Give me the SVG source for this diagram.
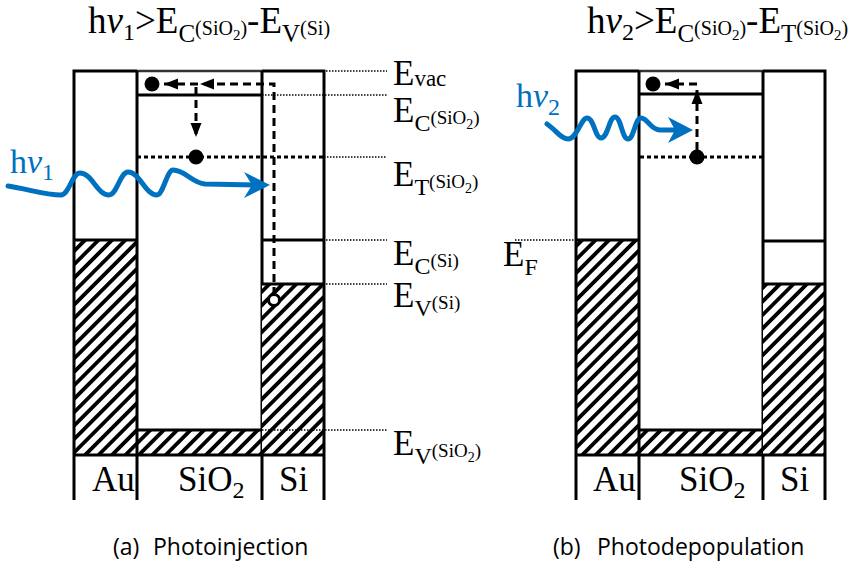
<svg xmlns="http://www.w3.org/2000/svg" width="853" height="563" viewBox="0 0 853 563">
<style>
.ln{stroke:#000;stroke-width:3;fill:none}
.top{stroke:#333;stroke-width:2.5;fill:none}
.dot{stroke:#000;stroke-width:1.5;stroke-dasharray:1.5 1.5;fill:none}
.dotk{stroke:#000;stroke-width:3;stroke-dasharray:4 3;fill:none}
.dash{stroke:#000;stroke-width:3;stroke-dasharray:8 5;fill:none}
.wave{stroke:#0070C0;stroke-width:5;fill:none;stroke-linecap:round;stroke-linejoin:round}
.head{fill:#0070C0}
.t{font-family:"Liberation Serif","Times New Roman",serif;fill:#000}
.b{fill:#0070C0}
.cap{font-family:"Open Sans","Liberation Sans",sans-serif;font-size:23px;fill:#000}
.el{fill:#000}
</style>
<defs>
<pattern id="hatch" patternUnits="userSpaceOnUse" width="9.5" height="9.5" patternTransform="rotate(45)">
<rect width="9.5" height="9.5" fill="#fff"/>
<rect width="3.8" height="9.5" fill="#000"/>
</pattern>
<marker id="arr" markerUnits="userSpaceOnUse" markerWidth="15" markerHeight="12" refX="14" refY="6" orient="auto">
<path d="M0,0.5 L14,6 L0,11.5 Z" fill="#000"/>
</marker>
</defs>
<rect width="853" height="563" fill="#fff"/>

<!-- Titles -->
<text id="title-a" class="t" x="88" y="33" font-size="37">h<tspan font-style="italic">ν</tspan><tspan font-size="24" dy="7">1</tspan><tspan dy="-7">&gt;E</tspan><tspan font-size="25" dy="9">C</tspan><tspan font-size="20" dy="-7">(SiO</tspan><tspan font-size="15" dy="5">2</tspan><tspan font-size="20" dy="-5">)</tspan><tspan dy="-2">-E</tspan><tspan font-size="25" dy="9">V</tspan><tspan font-size="20" dy="-7">(Si)</tspan></text>
<text id="title-b" class="t" x="587" y="33" font-size="37">h<tspan font-style="italic">ν</tspan><tspan font-size="24" dy="7">2</tspan><tspan dy="-7">&gt;E</tspan><tspan font-size="25" dy="9">C</tspan><tspan font-size="20" dy="-7">(SiO</tspan><tspan font-size="15" dy="5">2</tspan><tspan font-size="20" dy="-5">)</tspan><tspan dy="-2">-E</tspan><tspan font-size="25" dy="9">T</tspan><tspan font-size="20" dy="-7">(SiO</tspan><tspan font-size="15" dy="5">2</tspan><tspan font-size="20" dy="-5">)</tspan></text>

<!-- ===== Diagram (a) ===== -->
<g id="au-a">
<rect x="74" y="240" width="63" height="215" fill="url(#hatch)"/>
<path class="ln" d="M74,500 V71 H137 M74,240 H137"/>
<text class="t" x="92" y="491" font-size="35">Au</text>
</g>
<g id="sio2-a">
<rect x="137" y="430" width="125" height="25" fill="url(#hatch)"/>
<path class="top" d="M137,71 H262"/>
<path class="ln" d="M137,71 V500 M262,71 V500 M137,95 H262 M137,430 H262"/>
<text class="t" x="178" y="491" font-size="35">SiO<tspan font-size="24" dy="7">2</tspan></text>
</g>
<g id="si-a">
<rect x="262" y="284" width="62" height="171" fill="url(#hatch)"/>
<path class="ln" d="M262,71 H324 V500 M262,240 H324 M262,284 H324 M74,455 H324"/>
<text class="t" x="279" y="491" font-size="35">Si</text>
</g>
<g id="levels-a">
<path class="dot" d="M326,71 H387 M262,95 H387 M324,157 H387 M326,240 H387 M326,284 H387 M262,430 H387"/>
<path class="dotk" d="M137,157 H324"/>
<text class="t" x="393" y="85" font-size="35">E<tspan font-size="23" dy="1">vac</tspan></text>
<text class="t" x="393" y="122" font-size="35">E<tspan font-size="24" dy="9">C</tspan><tspan font-size="19" dy="-7">(SiO</tspan><tspan font-size="14" dy="5">2</tspan><tspan font-size="19" dy="-5">)</tspan></text>
<text class="t" x="393" y="186" font-size="35">E<tspan font-size="24" dy="9">T</tspan><tspan font-size="19" dy="-7">(SiO</tspan><tspan font-size="14" dy="5">2</tspan><tspan font-size="19" dy="-5">)</tspan></text>
<text class="t" x="393" y="265" font-size="35">E<tspan font-size="24" dy="9">C</tspan><tspan font-size="19" dy="-7">(Si)</tspan></text>
<text class="t" x="393" y="307" font-size="35">E<tspan font-size="24" dy="9">V</tspan><tspan font-size="19" dy="-7">(Si)</tspan></text>
<text class="t" x="393" y="455" font-size="35">E<tspan font-size="24" dy="9">V</tspan><tspan font-size="19" dy="-7">(SiO</tspan><tspan font-size="14" dy="5">2</tspan><tspan font-size="19" dy="-5">)</tspan></text>
</g>
<g id="electrons-a">
<circle class="el" cx="152" cy="84" r="7.5"/>
<circle class="el" cx="196" cy="157" r="7.5"/>
</g>
<g id="connectors-a">
<path class="dash" d="M274,295 V84 H200" marker-end="url(#arr)"/>
<path class="dash" d="M198,84 H164" marker-end="url(#arr)"/>
<path class="dash" d="M196,87 V137" marker-end="url(#arr)"/>
<path class="wave" d="M8,186 C28,189 45,195 61,195 C69,195 72,173 80,173 C92,173 97,195 109,195 C117,195 120,172 128,172 C140,172 145,195 157,195 C163,195 167,170 173,170 C185,170 192,183 205,184 L258,185"/>
<path class="head" d="M270,185 L244,172 L252,185 L244,198 Z"/>
</g>
<g id="hole-a">
<circle cx="274" cy="300" r="5.5" fill="#fff" stroke="#000" stroke-width="3"/>
</g>
<text id="hv1" class="t b" x="10" y="173" font-size="34">h<tspan font-style="italic">ν</tspan><tspan font-size="24" dy="7">1</tspan></text>

<!-- ===== Diagram (b) ===== -->
<g id="au-b">
<rect x="576" y="240" width="63" height="215" fill="url(#hatch)"/>
<path class="ln" d="M576,500 V71 H639 M576,240 H639"/>
<text class="t" x="593" y="491" font-size="35">Au</text>
</g>
<g id="sio2-b">
<rect x="639" y="430" width="124" height="25" fill="url(#hatch)"/>
<path class="top" d="M639,71 H763"/>
<path class="ln" d="M639,71 V500 M763,71 V500 M639,94 H763 M639,430 H763"/>
<text class="t" x="679" y="491" font-size="35">SiO<tspan font-size="24" dy="7">2</tspan></text>
</g>
<g id="si-b">
<rect x="763" y="284" width="62" height="171" fill="url(#hatch)"/>
<path class="ln" d="M763,71 H825 V500 M763,241 H825 M763,284 H825 M576,455 H825"/>
<text class="t" x="780" y="491" font-size="35">Si</text>
</g>
<g id="levels-b">
<path class="dot" d="M515,240 H575"/>
<path class="dotk" d="M640,157 H762"/>
<text class="t" x="503" y="266" font-size="35">E<tspan font-size="24" dy="9">F</tspan></text>
</g>
<g id="electrons-b">
<circle class="el" cx="653" cy="84" r="7.5"/>
<circle class="el" cx="697" cy="157" r="7.5"/>
</g>
<g id="connectors-b">
<path class="dash" d="M697,150 V90" marker-end="url(#arr)"/>
<path class="dash" d="M697,84 H665" marker-end="url(#arr)"/>
<path class="wave" d="M547,124 C556,130 561,139 568,139 C577,139 581,118 587,118 C594,118 595,138 601,138 C608,138 609,117 615,117 C621,117 622,139 628,139 C634,139 635,118 641,118 C648,118 650,130 660,130 L684,130"/>
<path class="head" d="M693,130 L668,117 L675,130 L668,143 Z"/>
</g>
<text id="hv2" class="t b" x="516" y="107" font-size="34">h<tspan font-style="italic">ν</tspan><tspan font-size="24" dy="8">2</tspan></text>

<!-- Captions -->
<text id="cap-a" class="cap" x="113" y="555">(a)<tspan x="153">Photoinjection</tspan></text>
<text id="cap-b" class="cap" x="553" y="555">(b)<tspan x="597">Photodepopulation</tspan></text>
</svg>
